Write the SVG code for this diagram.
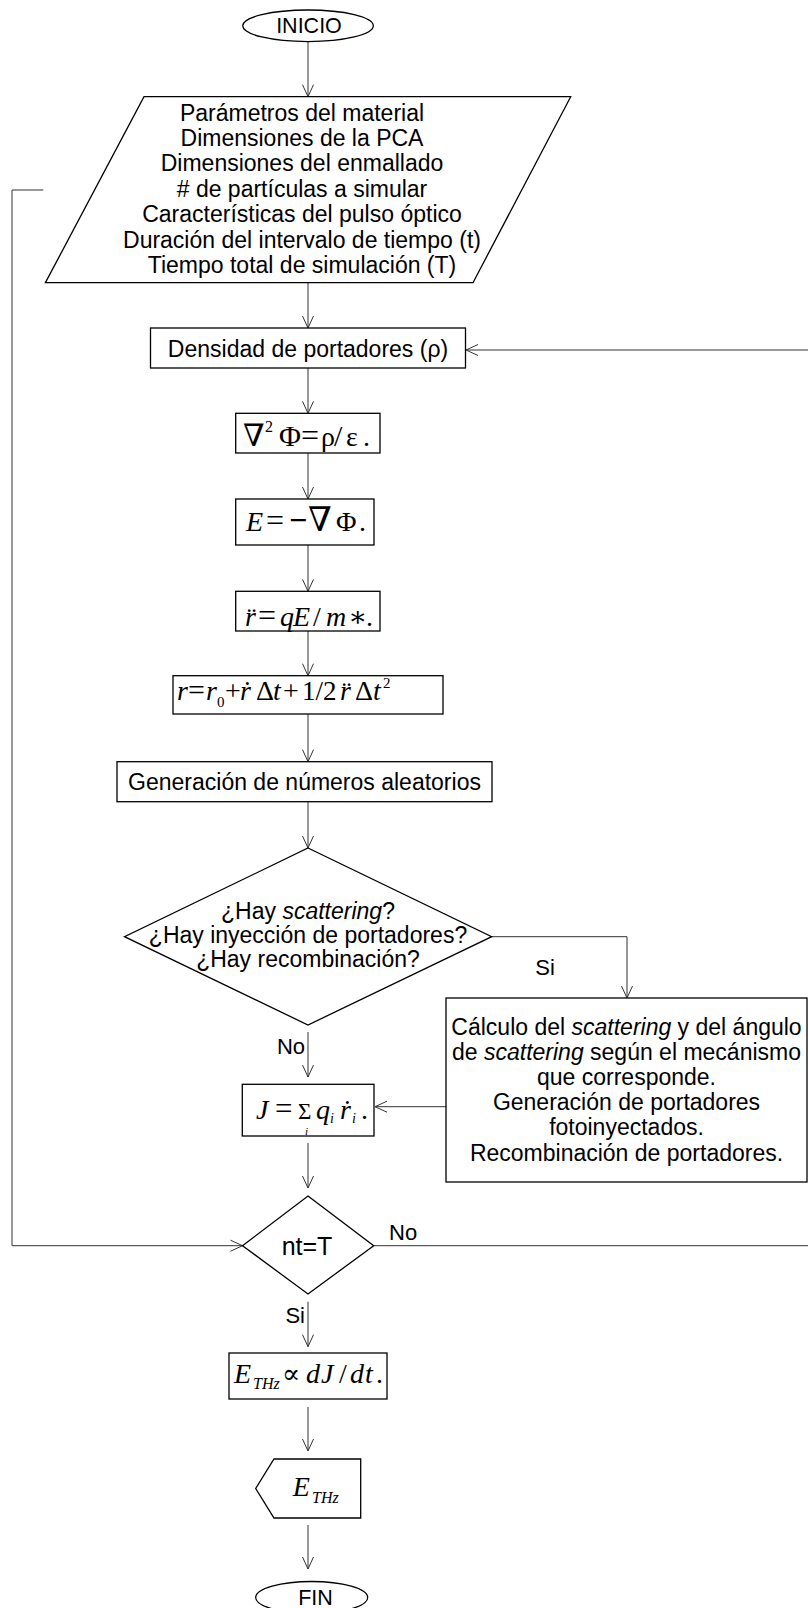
<svg xmlns="http://www.w3.org/2000/svg" width="808" height="1608" viewBox="0 0 808 1608">
<style>
.box{fill:#fff;stroke:#000;stroke-width:1.3}
.ln{fill:none;stroke:#333;stroke-width:1}
.t{font-family:"Liberation Sans",Arial,sans-serif;font-size:23px;fill:#000;text-anchor:middle}
.lb{font-family:"Liberation Sans",Arial,sans-serif;font-size:22px;fill:#000}
.m{font-family:"Liberation Serif","DejaVu Serif",serif;fill:#000;font-size:28px}
.i{font-style:italic}
</style>
<defs>
<marker id="ah" markerUnits="userSpaceOnUse" viewBox="-13 -7 14 14" refX="0" refY="0" markerWidth="14" markerHeight="14" orient="auto">
<path d="M-12,-5.5 L0,0 L-12,5.5" fill="none" stroke="#333" stroke-width="1"/>
</marker>
</defs>
<rect width="808" height="1608" fill="#fff"/>

<g id="connectors">
<path class="ln" marker-end="url(#ah)" d="M308,41.7 V96.7"/>
<path class="ln" marker-end="url(#ah)" d="M308,282.7 V328"/>
<path class="ln" marker-end="url(#ah)" d="M308,368 V413.3"/>
<path class="ln" marker-end="url(#ah)" d="M308,453 V499"/>
<path class="ln" marker-end="url(#ah)" d="M308,545 V591.3"/>
<path class="ln" marker-end="url(#ah)" d="M308,631 V675.7"/>
<path class="ln" marker-end="url(#ah)" d="M308,714 V761.7"/>
<path class="ln" marker-end="url(#ah)" d="M308,801.7 V848"/>
<path class="ln" marker-end="url(#ah)" d="M491.7,936.7 H627 V998"/>
<path class="ln" marker-end="url(#ah)" d="M308,1032 V1077"/>
<path class="ln" marker-end="url(#ah)" d="M446,1106.7 H375"/>
<path class="ln" marker-end="url(#ah)" d="M308,1143 V1188"/>
<path class="ln" marker-end="url(#ah)" d="M43.3,190 H12 V1245.7 H242.5"/>
<path class="ln" marker-end="url(#ah)" d="M373.7,1245.7 H816 V350 H466"/>
<path class="ln" marker-end="url(#ah)" d="M308,1301.7 V1346.7"/>
<path class="ln" marker-end="url(#ah)" d="M308,1407 V1451"/>
<path class="ln" marker-end="url(#ah)" d="M308,1525 V1569"/>
<text class="lb" x="545" y="975" text-anchor="middle">Si</text>
<text class="lb" x="305" y="1054" text-anchor="end">No</text>
<text class="lb" x="389" y="1240">No</text>
<text class="lb" x="305" y="1323" text-anchor="end">Si</text>
</g>

<g id="inicio">
<ellipse class="box" cx="308" cy="25.8" rx="65.3" ry="15.8"/>
<text class="t" x="309" y="33.3" style="font-size:21.5px">INICIO</text>
</g>

<g id="entrada">
<polygon class="box" points="144,96.7 570.7,96.7 473,282.7 45.4,282.7"/>
<text class="t" x="302" y="120.5">Parámetros del material</text>
<text class="t" x="302" y="145.9">Dimensiones de la PCA</text>
<text class="t" x="302" y="171.3">Dimensiones del enmallado</text>
<text class="t" x="302" y="196.7"># de partículas a simular</text>
<text class="t" x="302" y="222.1">Características del pulso óptico</text>
<text class="t" x="302" y="247.5">Duración del intervalo de tiempo (t)</text>
<text class="t" x="302" y="272.9">Tiempo total de simulación (T)</text>
</g>

<g id="densidad">
<rect class="box" x="150.5" y="328" width="315" height="40"/>
<text class="t" x="308" y="357">Densidad de portadores (ρ)</text>
</g>

<g id="poisson">
<rect class="box" x="235.7" y="413.3" width="144.3" height="39.7"/>
<text class="m" y="446"><tspan x="243" font-size="31">∇</tspan><tspan x="265" y="432" font-size="16">2</tspan><tspan x="279" y="446" font-size="30">Φ</tspan><tspan x="301" font-size="32">=</tspan><tspan x="321">ρ</tspan><tspan x="334" font-size="30">/</tspan><tspan x="346">ε</tspan><tspan x="363">.</tspan></text>
</g>

<g id="campo">
<rect class="box" x="235.7" y="499" width="138.3" height="46"/>
<text class="m" y="531"><tspan x="246" class="i">E</tspan><tspan x="266" font-size="32">=</tspan><tspan x="289" font-size="32" font-weight="bold">−</tspan><tspan x="308" font-size="34">∇</tspan><tspan x="336">Φ</tspan><tspan x="359">.</tspan></text>
</g>

<g id="aceleracion">
<rect class="box" x="235.7" y="591.3" width="144.3" height="39.7"/>
<text class="m" y="626"><tspan x="245" class="i">r̈</tspan><tspan x="258" font-size="32">=</tspan><tspan x="280" class="i">q</tspan><tspan x="293" class="i">E</tspan><tspan x="313">/</tspan><tspan x="326" class="i">m</tspan><tspan x="348">∗</tspan><tspan x="366">.</tspan></text>
</g>

<g id="posicion">
<rect class="box" x="173" y="675.7" width="270" height="38.3"/>
<text class="m" y="700" style="font-size:28px"><tspan x="177" class="i">r</tspan><tspan x="188" font-size="30">=</tspan><tspan x="206" class="i">r</tspan><tspan x="217" y="707" font-size="15">0</tspan><tspan x="225" y="700">+</tspan><tspan x="240" class="i">ṙ</tspan><tspan x="256">Δ</tspan><tspan x="273" class="i">t</tspan><tspan x="283">+</tspan><tspan x="302" font-size="27">1/2</tspan><tspan x="340" class="i">r̈</tspan><tspan x="355">Δ</tspan><tspan x="373" class="i">t</tspan><tspan x="383" y="688" font-size="15">2</tspan></text>
</g>

<g id="aleatorios">
<rect class="box" x="117" y="761.7" width="375" height="40"/>
<text class="t" x="304.5" y="790">Generación de números aleatorios</text>
</g>

<g id="decision1">
<polygon class="box" points="308,848 491.7,936.7 308,1025 124.5,936.7"/>
<text class="t" x="308" y="919.3">¿Hay <tspan class="i">scattering</tspan>?</text>
<text class="t" x="308" y="943.3">¿Hay inyección de portadores?</text>
<text class="t" x="308" y="967.3">¿Hay recombinación?</text>
</g>

<g id="scattering">
<rect class="box" x="446" y="998" width="361" height="184"/>
<text class="t" x="626.5" y="1034.5">Cálculo del <tspan class="i">scattering</tspan> y del ángulo</text>
<text class="t" x="626.5" y="1059.7">de <tspan class="i">scattering</tspan> según el mecánismo</text>
<text class="t" x="626.5" y="1084.9">que corresponde.</text>
<text class="t" x="626.5" y="1110.1">Generación de portadores</text>
<text class="t" x="626.5" y="1135.3">fotoinyectados.</text>
<text class="t" x="626.5" y="1160.5">Recombinación de portadores.</text>
</g>

<g id="corriente">
<rect class="box" x="242.3" y="1084.3" width="131.7" height="51.7"/>
<text class="m" y="1119"><tspan x="256" class="i">J</tspan><tspan x="275" font-size="31">=</tspan><tspan x="298" font-size="23">Σ</tspan><tspan x="305" y="1134.5" font-size="11" class="i">i</tspan><tspan x="316" y="1119" class="i">q</tspan><tspan x="330" y="1123" font-size="14" class="i">i</tspan><tspan x="340" y="1119" class="i">ṙ</tspan><tspan x="352" y="1123" font-size="14" class="i">i</tspan><tspan x="361" y="1119">.</tspan></text>
</g>

<g id="decision2">
<polygon class="box" points="308,1196 373.7,1245.7 308,1294 242.5,1245.7"/>
<text class="t" x="307" y="1255" style="font-size:25px">nt=T</text>
</g>

<g id="thz">
<rect class="box" x="229" y="1353" width="158" height="46"/>
<text class="m" y="1382.7"><tspan x="234" class="i">E</tspan><tspan x="253" y="1389" font-size="16" class="i">THz</tspan><tspan x="282" y="1382.7" font-size="27">∝</tspan><tspan x="306" class="i">d</tspan><tspan x="321" class="i">J</tspan><tspan x="339">/</tspan><tspan x="350" class="i">d</tspan><tspan x="365" class="i">t</tspan><tspan x="376">.</tspan></text>
</g>

<g id="salida">
<polygon class="box" points="274,1459 360.7,1459 360.7,1518 274,1518 255.7,1488.5"/>
<text class="m" y="1496"><tspan x="292.7" class="i">E</tspan><tspan x="312" y="1503" font-size="16" class="i">THz</tspan></text>
</g>

<g id="fin">
<ellipse class="box" cx="311.7" cy="1597.5" rx="56" ry="16"/>
<text class="t" x="315.5" y="1605" style="font-size:21.5px">FIN</text>
</g>
</svg>
